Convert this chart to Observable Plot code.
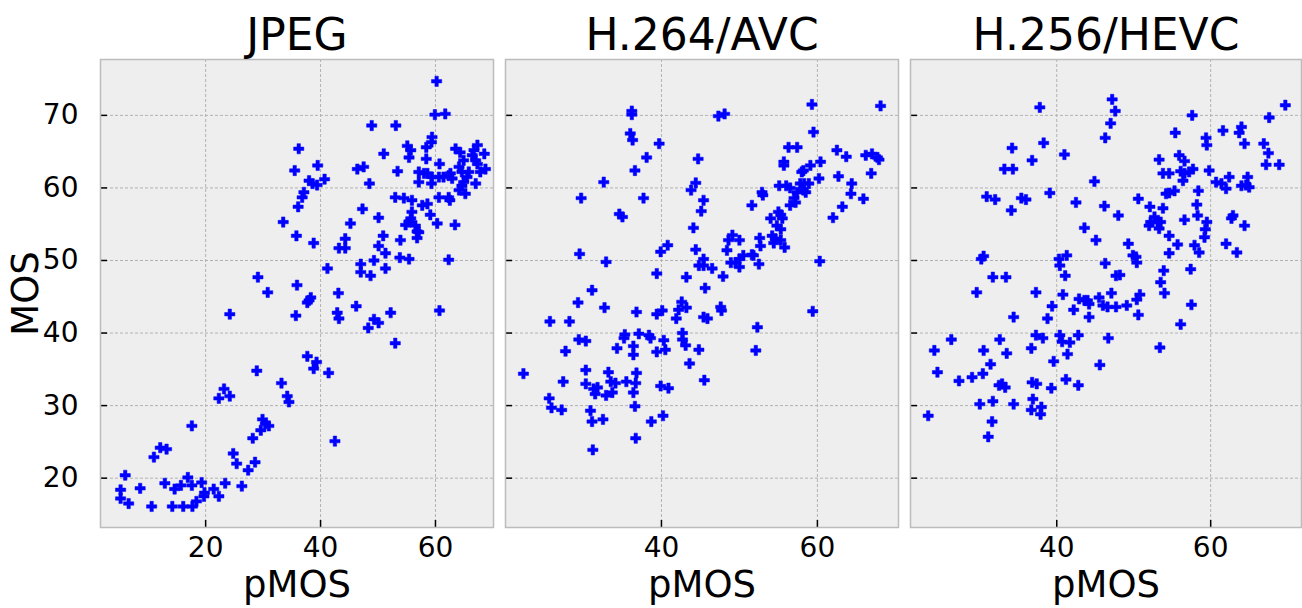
<!DOCTYPE html>
<html><head><meta charset="utf-8">
<script src="https://cdn.jsdelivr.net/npm/d3@7"></script>
<script src="https://cdn.jsdelivr.net/npm/@observablehq/plot@0.6"></script>
<style>
html,body{margin:0;padding:0;background:#fff;}
#wrap{position:relative;width:1302px;height:608px;overflow:hidden;font-family:"DejaVu Sans",sans-serif;}
#wrap svg{position:absolute;top:0;}
</style></head><body><div id="wrap"></div>
<script>
const titles = ["JPEG", "H.264/AVC", "H.256/HEVC"];
const xLabel = "pMOS";
const yLabel = "MOS";
const yTicks = [20, 30, 40, 50, 60, 70];
const xTicksJpeg = [20, 40, 60];
const xTicksAvc = [40, 60];
const xTicksHevc = [40, 60];

// [pMOS, MOS]
const jpegPoints = [[36.2,65.4],[35.5,62.4],[33.5,55.3],[35.8,53.4],[29.1,47.7],[36.1,57.4],[39.5,63.1],[38.0,61.0],[38.6,60.6],[39.4,60.4],[40.7,61.2],[37.1,59.4],[36.8,58.7],[38.8,52.4],[41.2,48.9],[48.9,68.6],[53.1,68.6],[60.2,74.7],[59.9,70.1],[61.7,70.2],[59.4,67.0],[59.3,66.3],[51.0,64.7],[55.1,65.8],[55.7,65.2],[55.4,64.2],[58.4,65.6],[58.4,64.0],[46.4,62.6],[47.5,62.9],[48.5,60.6],[53.4,62.3],[57.1,62.2],[58.0,62.0],[58.6,62.0],[59.4,61.5],[57.1,60.8],[59.3,60.6],[60.7,63.3],[60.6,61.5],[61.4,61.5],[62.3,61.7],[62.9,61.3],[62.6,62.0],[63.5,65.4],[64.3,64.9],[64.9,63.8],[64.1,62.9],[64.6,62.2],[67.3,65.9],[66.7,65.2],[66.4,64.5],[67.0,63.8],[67.3,63.3],[68.5,64.7],[65.8,62.2],[65.5,61.5],[64.9,60.8],[64.6,60.3],[68.7,62.6],[67.8,62.2],[67.0,60.6],[64.1,59.7],[65.2,59.2],[53.0,58.7],[54.5,58.6],[55.9,58.3],[60.6,58.7],[62.3,58.7],[62.5,58.3],[57.7,57.6],[58.6,57.8],[55.9,56.7],[55.7,55.8],[55.4,55.3],[59.1,56.3],[47.3,57.1],[50.1,55.9],[45.2,55.1],[54.8,54.9],[56.5,54.8],[56.8,54.0],[57.1,53.9],[56.8,53.1],[60.3,55.1],[63.4,54.9],[44.3,53.0],[43.2,51.7],[44.3,51.7],[50.9,53.4],[50.1,52.0],[51.3,51.0],[53.9,52.8],[53.8,50.4],[55.4,50.2],[49.3,50.0],[62.3,50.1],[47.0,49.5],[47.0,48.4],[48.7,47.9],[51.3,48.9],[35.9,46.6],[38.3,44.9],[38.0,44.5],[37.7,44.2],[35.7,42.4],[43.1,45.5],[42.9,42.8],[43.2,42.0],[46.2,43.7],[49.3,41.9],[50.1,41.4],[48.3,40.7],[52.2,42.8],[53.0,38.6],[60.7,43.1],[37.7,36.8],[39.3,36.0],[38.8,35.1],[41.4,34.5],[42.5,25.1],[30.8,45.6],[24.2,42.6],[28.9,34.8],[33.2,33.1],[23.2,32.3],[22.3,31.0],[24.2,31.3],[34.2,31.3],[34.5,30.5],[17.6,27.2],[29.9,28.1],[30.4,27.5],[31.0,27.2],[29.6,26.6],[28.2,25.5],[12.1,24.2],[13.2,24.0],[11.0,22.9],[24.8,23.4],[25.4,22.0],[28.6,22.2],[27.4,21.1],[6.0,20.4],[16.9,20.1],[5.2,18.4],[5.2,17.2],[6.6,16.5],[8.6,18.6],[12.9,19.3],[14.6,18.5],[15.7,19.0],[17.6,19.0],[19.3,19.4],[19.8,18.0],[19.7,17.5],[21.4,18.5],[22.3,17.5],[23.4,19.3],[26.3,18.9],[18.4,16.8],[17.7,16.1],[10.6,16.1],[14.2,16.1],[16.1,16.1]];

const avcPoints = [[36.2,70.6],[36.2,70.1],[36.0,67.5],[36.3,66.6],[39.7,66.1],[38.1,64.2],[36.6,62.4],[32.6,60.8],[29.7,58.6],[37.7,58.6],[34.6,56.4],[35.0,56.0],[44.7,64.0],[44.4,60.7],[43.8,59.7],[45.4,58.3],[45.1,56.8],[44.1,54.5],[29.5,50.9],[32.9,49.8],[39.9,51.2],[40.8,52.1],[44.4,51.5],[44.8,49.3],[45.4,49.3],[45.4,50.2],[39.4,48.2],[43.2,47.7],[59.3,71.5],[68.1,71.3],[47.3,69.9],[48.1,70.2],[59.5,67.7],[56.3,65.6],[57.4,65.6],[55.7,63.6],[55.7,63.1],[62.5,65.2],[63.7,64.3],[66.2,64.5],[67.0,64.7],[67.7,64.2],[67.9,63.9],[60.4,63.6],[59.1,63.1],[58.2,62.4],[58.0,62.2],[60.2,61.3],[62.7,61.6],[66.9,62.0],[64.4,60.6],[55.1,60.3],[56.0,60.3],[56.5,60.0],[57.8,60.6],[58.3,60.6],[58.9,60.6],[58.2,59.7],[58.5,59.4],[57.4,59.4],[57.0,58.6],[57.2,58.0],[56.5,57.6],[64.3,59.2],[65.9,58.5],[63.2,57.4],[62.0,55.9],[52.9,59.4],[53.0,59.0],[51.6,57.6],[55.0,56.7],[54.0,55.8],[55.5,55.8],[55.3,56.3],[54.8,54.8],[55.3,54.3],[54.2,53.4],[54.6,53.0],[55.3,52.8],[54.4,52.4],[55.8,51.8],[52.6,53.1],[52.7,52.0],[49.1,53.5],[48.6,52.8],[48.4,51.4],[50.0,52.8],[51.6,50.8],[51.8,50.7],[50.5,50.7],[50.0,50.2],[49.5,49.7],[50.0,49.1],[48.9,49.7],[52.5,49.5],[46.5,48.9],[47.9,47.8],[60.3,49.9],[45.6,46.2],[47.6,43.6],[47.7,43.1],[45.4,42.2],[45.9,42.0],[52.3,40.8],[59.4,43.0],[52.1,37.6],[45.5,33.5],[31.1,45.9],[29.3,44.2],[32.7,43.5],[25.7,41.6],[28.2,41.6],[36.8,42.9],[39.4,42.6],[40.1,43.1],[42.6,44.3],[42.2,43.2],[43.2,43.5],[41.9,42.0],[29.4,39.1],[30.3,38.9],[27.7,37.5],[35.3,39.8],[35.2,39.3],[37.1,39.9],[38.4,39.7],[38.6,39.3],[34.3,37.9],[36.4,38.2],[36.4,37.0],[39.4,37.4],[40.3,39.0],[40.5,37.7],[42.7,40.0],[42.7,39.1],[43.1,38.3],[44.8,37.7],[43.6,35.8],[22.3,34.4],[27.4,33.3],[30.3,34.9],[30.3,33.0],[31.3,32.3],[31.8,32.5],[31.5,31.6],[32.9,31.4],[33.7,31.8],[33.2,34.6],[33.5,33.3],[34.1,33.1],[35.5,33.3],[36.8,34.5],[36.7,33.1],[36.4,31.8],[39.9,32.7],[40.9,32.4],[25.6,31.0],[25.9,29.7],[27.2,29.4],[30.9,29.3],[31.1,27.8],[32.5,28.1],[36.6,29.9],[38.7,27.8],[40.2,28.6],[36.7,25.5],[31.2,23.9]];

const hevcPoints = [[37.8,71.1],[34.2,65.5],[38.3,66.2],[41.0,64.6],[36.8,63.8],[33.2,62.6],[34.3,62.6],[44.9,60.9],[39.1,59.3],[42.5,58.0],[46.2,57.5],[30.9,58.8],[32.0,58.4],[35.4,58.6],[36.0,58.4],[34.1,56.9],[43.6,54.5],[45.1,52.8],[46.3,66.9],[30.5,50.6],[30.2,50.2],[40.3,50.2],[40.4,49.3],[41.3,50.7],[41.1,47.9],[31.7,47.7],[33.4,47.7],[46.3,49.6],[47.2,72.2],[47.6,70.6],[47.0,68.9],[69.7,71.4],[57.6,70.0],[67.6,69.7],[55.4,67.6],[61.6,67.9],[64.0,68.4],[63.7,67.6],[64.4,66.1],[59.4,66.9],[59.5,65.9],[66.9,66.1],[67.5,64.8],[67.2,63.2],[68.9,63.2],[53.3,63.9],[55.9,64.5],[56.6,63.7],[53.8,62.0],[54.6,62.0],[56.1,62.3],[56.6,62.0],[57.2,62.2],[57.7,62.6],[56.4,61.0],[59.8,62.4],[60.7,60.8],[61.4,60.6],[62.0,59.9],[62.4,61.5],[64.0,60.3],[64.6,60.4],[65.0,60.1],[64.8,61.5],[54.2,59.2],[54.6,59.3],[55.3,59.6],[58.4,59.6],[50.6,58.5],[52.1,57.4],[53.8,57.2],[58.2,57.7],[58.3,56.2],[48.0,56.2],[52.7,56.0],[52.2,55.3],[53.1,55.3],[52.0,54.8],[53.3,54.4],[53.5,55.3],[56.6,55.6],[59.5,55.3],[59.3,54.3],[59.2,53.2],[62.7,55.8],[62.9,56.2],[64.4,54.8],[54.6,53.4],[55.7,52.2],[57.9,52.1],[58.5,51.1],[49.3,52.3],[49.9,50.7],[50.3,50.5],[50.4,49.7],[54.6,51.0],[62.0,52.3],[63.4,51.1],[53.9,48.6],[57.4,48.8],[47.7,47.9],[48.2,48.0],[29.6,45.6],[37.3,45.6],[40.8,45.3],[39.4,43.7],[42.2,43.2],[42.9,44.7],[43.6,44.5],[44.2,44.0],[45.5,44.9],[46.0,43.8],[44.0,44.5],[44.2,42.2],[38.8,42.0],[34.4,42.2],[37.3,39.7],[38.2,39.3],[40.4,39.7],[40.7,38.8],[41.7,38.7],[41.4,37.1],[42.8,39.7],[36.7,37.9],[32.6,39.1],[33.5,37.2],[26.3,39.1],[24.1,37.6],[30.5,37.6],[31.4,35.7],[39.6,36.1],[45.6,35.6],[24.5,34.6],[27.3,33.4],[29.0,33.9],[30.4,34.4],[32.5,32.8],[32.9,33.0],[33.3,32.5],[36.8,33.2],[37.4,33.0],[39.3,32.4],[41.2,33.6],[42.8,32.8],[30.0,30.2],[31.7,30.6],[34.4,30.2],[36.9,30.9],[36.7,29.4],[38.0,29.8],[37.9,28.8],[23.3,28.6],[31.6,27.8],[31.1,25.7],[53.5,47.0],[47.1,45.5],[54.0,45.5],[50.8,45.3],[50.4,44.6],[46.6,43.6],[47.7,43.6],[49.1,43.8],[50.6,42.5],[57.5,43.9],[56.1,41.2],[46.7,39.3],[53.4,38.0]];

const yDomain = [13.2, 77.7];
const panels = [
  {title: titles[0], points: jpegPoints, xDomain: [1.7, 70.1], xTicks: xTicksJpeg, left: 0, width: 497, ml: 100, mr: 4, showY: true},
  {title: titles[1], points: avcPoints, xDomain: [20.0, 70.4], xTicks: xTicksAvc, left: 497, width: 405, ml: 8, mr: 4, showY: false},
  {title: titles[2], points: hevcPoints, xDomain: [21.0, 71.8], xTicks: xTicksHevc, left: 902, width: 400, ml: 8, mr: 1, showY: false}
];

const H = 608, MT = 59, MB = 81;
const wrap = document.getElementById("wrap");
const gridStyle = {stroke: "#b2b2b2", strokeOpacity: 1, strokeWidth: 1, strokeDasharray: "3,2"};

for (const p of panels) {
  const fw = p.width - p.ml - p.mr, fh = H - MT - MB;
  const marks = [
    Plot.frame({fill: "#eeeeee", stroke: null}),
    Plot.gridX(p.xTicks, gridStyle),
    Plot.gridY(yTicks, gridStyle),
    Plot.dot(p.points, {x: d => d[0], y: d => d[1], symbol: "cross", r: 4.3, fill: "#0000ff", stroke: "#0000ff", strokeWidth: 0.5}),
    Plot.tickY(yTicks, {y: d => d, insetRight: fw - 7, stroke: "#000", strokeWidth: 1.5}),
    Plot.tickX(p.xTicks, {x: d => d, insetTop: fh - 7, stroke: "#000", strokeWidth: 1.5}),
    Plot.frame({stroke: "#bcbcbc", strokeWidth: 1.5}),
    Plot.axisX(p.xTicks, {tickSize: 0, tickPadding: 10, fontSize: 28, label: null, fill: "#000"}),
    Plot.text([p.title], {frameAnchor: "top", lineAnchor: "middle", dy: -24, fontSize: 44, fill: "#000"}),
    Plot.text([xLabel], {frameAnchor: "bottom", lineAnchor: "middle", dy: 58, fontSize: 37, fill: "#000"})
  ];
  if (p.showY) {
    marks.push(Plot.axisY(yTicks, {tickSize: 0, tickPadding: 22, fontSize: 28, label: null, fill: "#000"}));
    marks.push(Plot.text([yLabel], {frameAnchor: "left", textAnchor: "middle", lineAnchor: "middle", dx: -74, rotate: -90, fontSize: 37, fill: "#000"}));
  }
  const svg = Plot.plot({
    width: p.width, height: H,
    marginLeft: p.ml, marginRight: p.mr, marginTop: MT, marginBottom: MB,
    style: {fontFamily: "'DejaVu Sans', sans-serif", background: "transparent", overflow: "visible"},
    x: {domain: p.xDomain, label: null},
    y: {domain: yDomain, label: null, ...(p.showY ? {} : {axis: null})},
    marks
  });
  svg.style.left = p.left + "px";
  wrap.appendChild(svg);
}
</script></body></html>
